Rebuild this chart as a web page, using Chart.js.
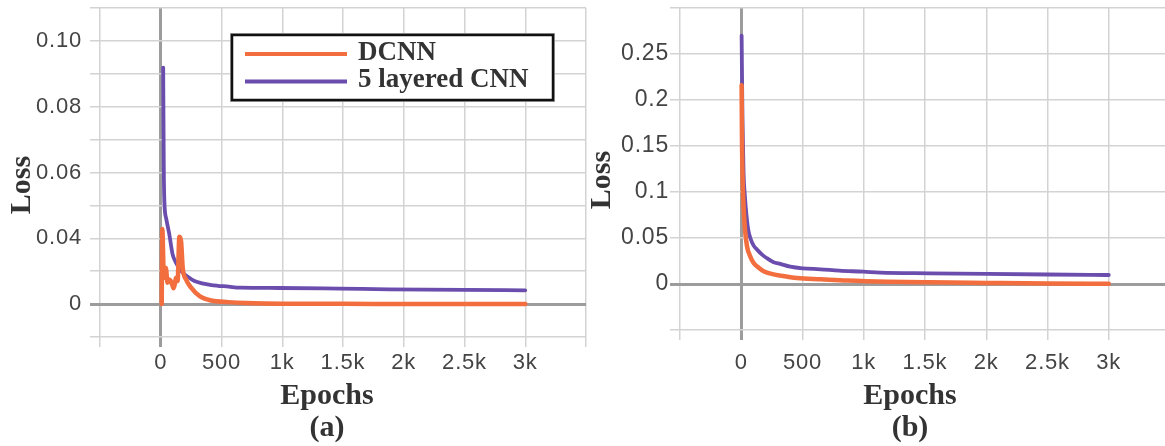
<!DOCTYPE html>
<html>
<head>
<meta charset="utf-8">
<script src="https://cdn.jsdelivr.net/npm/chart.js@4.4.1/dist/chart.umd.min.js"></script>
<style>
  html, body { margin: 0; padding: 0; background: #fff; overflow: hidden; }
  #page { position: relative; width: 1165px; height: 446px; overflow: hidden; }
  .panel { position: absolute; top: 0; }
</style>
</head>
<body>
<div id="page">
  <div class="panel" style="left:0"><canvas id="lossA" width="590" height="446"></canvas></div>
  <div class="panel" style="left:590px"><canvas id="lossB" width="590" height="446"></canvas></div>
</div>
<script>
// ---- (a) loss curves ----
const epochsDcnnA = [8, 13, 26, 42, 56, 70, 83, 95, 106, 118, 125, 139, 153, 167, 181, 208, 250, 320, 417, 556, 700, 1000, 1500, 2000, 2500, 3000];
const lossDcnnA   = [0, 0.0228, 0.008, 0.011, 0.0065, 0.0075, 0.007, 0.0058, 0.0048, 0.0065, 0.008, 0.007, 0.0205, 0.0192, 0.011, 0.0075, 0.005, 0.0024, 0.0011, 0.0006, 0.0003, 0.0001, 0.0001, 0, 0, 0];
const epochsCnnA  = [20, 25, 30, 45, 70, 97, 125, 160, 194, 235, 278, 340, 417, 560, 653, 975, 1470, 1880, 2500, 3000];
const lossCnnA    = [0.0719, 0.0414, 0.031, 0.026, 0.0213, 0.0152, 0.0126, 0.0105, 0.0091, 0.008, 0.007, 0.0063, 0.0058, 0.0053, 0.005, 0.0049, 0.0047, 0.0045, 0.0043, 0.0042];

// ---- (b) loss curves ----
const epochsDcnnB = [3, 6, 12, 19, 30, 47, 70, 101, 140, 183, 264, 320, 455, 650, 865, 1200, 1540, 2000, 2500, 3000];
const lossDcnnB   = [0.216, 0.157, 0.11, 0.0847, 0.06, 0.041, 0.031, 0.0229, 0.018, 0.0138, 0.0105, 0.0091, 0.0065, 0.0052, 0.0038, 0.0025, 0.0018, 0.0012, 0.0006, 0.0002];
const epochsCnnB  = [3, 10, 19, 30, 41, 57, 74, 100, 129, 170, 210, 260, 319, 400, 500, 647, 800, 996, 1134, 1542, 2004, 2500, 3000];
const lossCnnB    = [0.27, 0.18, 0.12, 0.095, 0.077, 0.059, 0.05, 0.042, 0.0374, 0.032, 0.028, 0.024, 0.0218, 0.0188, 0.017, 0.016, 0.0145, 0.0134, 0.0123, 0.0116, 0.0109, 0.0103, 0.0098];

// ---- labels ----
const seriesNames = ['DCNN', '5 layered CNN'];
const seriesColors = ['#F36E3E', '#6B4DAE'];
const epochTickLabels = ['0', '500', '1k', '1.5k', '2k', '2.5k', '3k'];
const lossTickLabelsA = ['0', '0.04', '0.06', '0.08', '0.10'];
const lossTickLabelsB = ['0', '0.05', '0.1', '0.15', '0.2', '0.25'];

const SERIF = "'Liberation Serif', 'Times New Roman', serif";
const SANS = "'Liberation Sans', Arial, sans-serif";

function pairs(xs, ys) { return xs.map((x, i) => ({ x: x, y: ys[i] })); }

function labelFrom(list, step) {
  return function (v) {
    const idx = Math.round(v / step);
    if (v < -1e-9 || Math.abs(v - idx * step) > 1e-6 || idx >= list.length) return '';
    return list[idx];
  };
}

const gridColor = ctx => (ctx.tick && Math.abs(ctx.tick.value) < 1e-9) ? '#9c9c9c' : '#d3d3d3';
const gridWidth = ctx => (ctx.tick && Math.abs(ctx.tick.value) < 1e-9) ? 3 : 1.5;

// tick text is drawn slightly spaced out
const spacedText = {
  id: 'spacedText',
  beforeDraw(chart) { chart.ctx.letterSpacing = '0.8px'; },
  afterDraw(chart) { chart.ctx.letterSpacing = '0px'; }
};

// axis titles and panel caption
const panelText = {
  id: 'panelText',
  afterDraw(chart, args, opts) {
    const ctx = chart.ctx;
    (opts.items || []).forEach(it => {
      ctx.save();
      ctx.letterSpacing = '0px';
      ctx.fillStyle = '#333';
      ctx.font = 'bold ' + it.size + 'px ' + SERIF;
      ctx.textAlign = 'center';
      ctx.textBaseline = 'middle';
      ctx.translate(it.x, it.y);
      if (it.rotate) ctx.rotate(-Math.PI / 2);
      ctx.fillText(it.text, 0, 0);
      ctx.restore();
    });
  }
};

// boxed legend inside the plot
const boxLegend = {
  id: 'boxLegend',
  afterDraw(chart, args, opts) {
    if (!opts.show) return;
    const ctx = chart.ctx;
    const a = chart.chartArea;
    const x0 = a.left + opts.dx, y0 = a.top + opts.dy;
    ctx.save();
    ctx.letterSpacing = '0px';
    ctx.fillStyle = '#fff';
    ctx.fillRect(x0, y0, opts.w, opts.h);
    ctx.strokeStyle = '#aaa';
    ctx.lineWidth = 1;
    ctx.strokeRect(x0 - 1.5, y0 - 1.5, opts.w + 3, opts.h + 3);
    ctx.strokeStyle = '#111';
    ctx.lineWidth = 2.5;
    ctx.strokeRect(x0, y0, opts.w, opts.h);
    chart.data.datasets.forEach((ds, i) => {
      const y = y0 + 19 + i * 27.5;
      ctx.strokeStyle = ds.borderColor;
      ctx.lineWidth = 4;
      ctx.beginPath();
      ctx.moveTo(x0 + 13, y);
      ctx.lineTo(x0 + 115, y);
      ctx.stroke();
      ctx.fillStyle = '#333';
      ctx.font = 'bold 27px ' + SERIF;
      ctx.textAlign = 'left';
      ctx.textBaseline = 'middle';
      ctx.fillText(ds.label, x0 + 126, y - 1);
    });
    ctx.restore();
  }
};

function makePanel(id, p) {
  return new Chart(document.getElementById(id), {
    type: 'line',
    data: {
      datasets: [
        { label: seriesNames[0], data: p.dcnn, borderColor: seriesColors[0], borderWidth: 4.5 },
        { label: seriesNames[1], data: p.cnn, borderColor: seriesColors[1], borderWidth: 3.8 }
      ]
    },
    options: {
      responsive: false,
      animation: false,
      devicePixelRatio: 1,
      elements: { point: { radius: 0 }, line: { cubicInterpolationMode: 'monotone', borderCapStyle: 'round', borderJoinStyle: 'round' } },
      layout: { padding: { top: 8, right: p.padRight, left: 0, bottom: 0 } },
      plugins: {
        legend: { display: false },
        tooltip: { enabled: false },
        panelText: { items: p.texts },
        boxLegend: p.legend
      },
      scales: {
        x: {
          type: 'linear', min: -500, max: 3500,
          ticks: { stepSize: 500, autoSkip: false, maxRotation: 0, padding: p.xPad, color: '#444',
                   font: { family: SANS, size: 22 }, callback: labelFrom(epochTickLabels, 500) },
          grid: { color: gridColor, lineWidth: gridWidth, tickLength: 10 },
          border: { display: false },
          afterFit: s => { s.height = p.xHeight; s.paddingLeft = 0; s.paddingRight = 0; }
        },
        y: {
          type: 'linear', min: p.yMin, max: p.yMax,
          ticks: { stepSize: p.yStep, autoSkip: false, padding: p.yPad, color: '#444',
                   font: { family: SANS, size: p.yFont }, callback: labelFrom(p.yLabels, p.yLabelStep) },
          grid: { color: gridColor, lineWidth: gridWidth, tickLength: 10 },
          border: { display: false },
          afterFit: s => { s.width = p.yWidth; s.paddingTop = 0; s.paddingBottom = 0; }
        }
      }
    },
    plugins: [spacedText, panelText, boxLegend]
  });
}

makePanel('lossA', {
  dcnn: pairs(epochsDcnnA, lossDcnnA),
  cnn: pairs(epochsCnnA, lossCnnA),
  padRight: 4, xHeight: 109, yWidth: 100, xPad: 3, yPad: 8, yFont: 22,
  yMin: -0.01, yMax: 0.09, yStep: 0.01, yLabels: lossTickLabelsA, yLabelStep: 0.02,
  texts: [
    { text: 'Loss', x: 22, y: 185, size: 30, rotate: true },
    { text: 'Epochs', x: 327, y: 396, size: 30 },
    { text: '(a)', x: 327, y: 428, size: 30 }
  ],
  legend: { show: true, dx: 132, dy: 27, w: 321, h: 65 }
});

makePanel('lossB', {
  dcnn: pairs(epochsDcnnB, lossDcnnB),
  cnn: pairs(epochsCnnB, lossCnnB),
  padRight: 10, xHeight: 116, yWidth: 90, xPad: 10, yPad: 1, yFont: 23,
  yMin: -0.05, yMax: 0.30, yStep: 0.05, yLabels: lossTickLabelsB, yLabelStep: 0.05,
  texts: [
    { text: 'Loss', x: 12, y: 180, size: 30, rotate: true },
    { text: 'Epochs', x: 320, y: 396, size: 30 },
    { text: '(b)', x: 320, y: 428, size: 30 }
  ],
  legend: { show: false }
});
</script>
</body>
</html>
